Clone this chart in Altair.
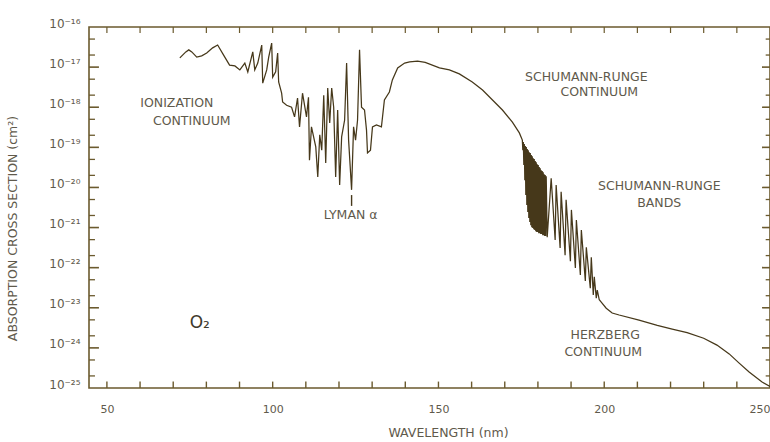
import altair as alt
import pandas as pd

# ---------------- data (wavelength in nm, log10 of cross section in cm^2)
WL_IONIZATION = [72.0, 73.8, 74.7, 75.6, 77.1, 78.6, 80.1, 81.9, 83.4, 85.2, 87.0, 88.6, 90.1, 91.6,
                 92.5, 94.0, 94.6, 95.5, 96.7, 97.0, 98.2, 98.8, 99.7, 100.0, 100.9, 101.5, 101.8,
                 102.7, 103.0, 104.2, 105.7, 106.6, 107.5, 108.1, 109.0, 110.2, 110.8, 111.1, 111.7,
                 113.0, 113.6, 114.2, 114.8, 115.4, 116.0, 116.6, 117.2, 117.8, 118.4, 119.0, 119.6,
                 120.2, 120.8, 121.7, 122.3, 122.9, 123.8, 124.4, 125.0, 125.6, 126.2, 126.8, 127.7,
                 128.3, 128.6, 129.5, 130.1, 131.3, 132.8, 133.7, 135.2, 136.1, 137.7]
LOG_IONIZATION = [-16.77, -16.62, -16.57, -16.62, -16.75, -16.72, -16.65, -16.52, -16.45, -16.70,
                  -16.95, -16.97, -17.07, -16.90, -17.12, -16.62, -17.07, -16.90, -16.45, -17.40,
                  -17.07, -16.75, -16.40, -17.25, -17.12, -16.65, -17.37, -17.65, -17.87, -17.95,
                  -18.00, -18.24, -17.77, -18.49, -17.65, -18.24, -17.75, -19.32, -18.49, -18.99,
                  -19.74, -18.69, -19.07, -17.70, -19.39, -17.52, -18.39, -17.52, -18.00, -19.74,
                  -18.07, -19.94, -18.74, -18.32, -16.90, -18.82, -20.06, -18.49, -18.82, -18.32,
                  -16.57, -18.00, -18.07, -18.57, -19.14, -19.07, -18.49, -18.44, -18.49, -17.82,
                  -17.62, -17.32, -17.02]

WL_SR_CONTINUUM = [139.8, 141.3, 143.7, 146.0, 150.3, 153.3, 156.3, 160.2, 163.3, 166.3, 169.3,
                   172.3, 174.4]
LOG_SR_CONTINUUM = [-16.90, -16.87, -16.85, -16.88, -17.02, -17.07, -17.17, -17.37, -17.57, -17.82,
                    -18.07, -18.37, -18.64]

WL_SR_BANDS = [175.3, 175.45, 175.6, 175.75, 175.9, 176.05, 176.2, 176.35, 176.5, 176.65, 176.8,
               176.95, 177.1, 177.25, 177.4, 177.55, 177.7, 177.85, 178.0, 178.15, 178.3, 178.45,
               178.6, 178.75, 178.9, 179.05, 179.2, 179.35, 179.5, 179.65, 179.8, 179.95, 180.1,
               180.25, 180.4, 180.55, 180.7, 180.85, 181.0, 181.15, 181.3, 181.45, 181.6, 181.75,
               181.9, 182.05, 182.2, 182.35, 182.5, 182.8,
               184.0, 185.2, 185.5, 186.7, 187.0, 188.2, 188.5, 189.8, 190.1, 191.3, 191.6, 192.8,
               193.1, 194.3, 194.6, 195.8, 196.1, 196.7, 197.0, 197.6, 197.9, 198.5, 199.1, 200.6]
LOG_SR_BANDS = [-18.82, -19.07, -18.87, -19.44, -18.92, -19.82, -18.97, -20.19, -18.99, -20.44,
                -19.04, -20.61, -19.07, -20.76, -19.12, -20.86, -19.14, -20.94, -19.19, -20.99,
                -19.22, -21.01, -19.27, -21.04, -19.29, -21.06, -19.34, -21.09, -19.37, -21.11,
                -19.42, -21.11, -19.44, -21.14, -19.49, -21.14, -19.52, -21.16, -19.57, -21.16,
                -19.59, -21.19, -19.62, -21.19, -19.67, -21.21, -19.69, -21.21, -19.72, -21.24,
                -19.77, -21.31, -19.94, -21.51, -20.11, -21.69, -20.31, -21.84, -20.56, -22.01,
                -20.81, -22.18, -21.06, -22.33, -21.49, -22.51, -21.74, -22.68, -22.23, -22.76,
                -22.56, -22.80, -22.86, -23.01]

WL_HERZBERG = [202.4, 204.5, 210.5, 216.0, 220.5, 225.0, 230.0, 234.0, 237.7, 240.7, 243.7, 247.6,
               250.0]
LOG_HERZBERG = [-23.13, -23.18, -23.31, -23.44, -23.53, -23.62, -23.76, -23.93, -24.15, -24.38,
                -24.60, -24.85, -24.96]

# axis ticks / labels
X_LABELS = [50, 100, 150, 200, 250]
X_TICKS = [50, 60, 70, 80, 90, 100, 110, 120, 130, 140, 150, 160, 170, 180, 190, 200, 210, 220, 230, 240]
Y_EXPONENTS = [-16, -17, -18, -19, -20, -21, -22, -23, -24, -25]
Y_LABELS = ["10⁻¹⁶", "10⁻¹⁷", "10⁻¹⁸", "10⁻¹⁹", "10⁻²⁰", "10⁻²¹", "10⁻²²", "10⁻²³", "10⁻²⁴", "10⁻²⁵"]
Y_MINOR_MULT = [2, 5]

# annotations
ANNOT_TEXT = ["IONIZATION", "CONTINUUM", "LYMAN α", "SCHUMANN-RUNGE", "CONTINUUM",
              "SCHUMANN-RUNGE", "BANDS", "HERZBERG", "CONTINUUM"]
ANNOT_WL = [71.1, 75.6, 123.5, 194.6, 198.5, 216.6, 216.6, 200.3, 199.7]
ANNOT_LOG = [-17.90, -18.34, -20.69, -17.25, -17.62, -19.97, -20.39, -23.68, -24.10]
LYMAN_WL = 123.8
LYMAN_MARK_LOG = [-20.19, -20.46]
SPECIES = "O₂"
SPECIES_WL = 78.0
SPECIES_LOG = -23.38

# ---------------- styling
INK = "#46381a"
FRAME = "#6b5a2e"
TEXT = "#5f5a4c"
FONT = "DejaVu Sans"
X_DOMAIN = [44.6, 250.0]
Y_DOMAIN = [1e-25, 1e-16]

wl = WL_IONIZATION + WL_SR_CONTINUUM + WL_SR_BANDS + WL_HERZBERG
lg = LOG_IONIZATION + LOG_SR_CONTINUUM + LOG_SR_BANDS + LOG_HERZBERG
curve = pd.DataFrame({"wavelength": wl, "sigma": [10.0 ** v for v in lg], "order": list(range(len(wl)))})

xs = alt.Scale(domain=X_DOMAIN, nice=False, zero=False)
ys = alt.Scale(type="log", domain=Y_DOMAIN, nice=False)

label_expr = " : ".join(
    f"abs(log(datum.value)/LN10 - ({e})) < 0.1 ? '{lab}'" for e, lab in zip(Y_EXPONENTS, Y_LABELS)
) + " : ''"

X_AXIS = alt.Axis(
    values=X_LABELS, ticks=False, domain=False, grid=False, labelPadding=15,
    labelFontSize=11, labelColor=TEXT, labelFont=FONT, labelFlush=True,
    title="WAVELENGTH (nm)", titleX=359, titleY=38, titleBaseline="top", titleAlign="center",
    titleFontSize=12.5, titleFontWeight="normal", titleColor=TEXT, titleFont=FONT)
Y_AXIS = alt.Axis(
    values=[10.0 ** e for e in Y_EXPONENTS], labelExpr=label_expr, ticks=False, domain=False,
    grid=False, labelPadding=9, labelOffset=-4, labelFontSize=12, labelColor=TEXT, labelFont=FONT,
    title="ABSORPTION CROSS SECTION (cm²)", titleX=-83, titleY=201, titleAngle=270,
    titleBaseline="top", titleAlign="center", titleFontSize=12.5, titleFontWeight="normal",
    titleColor=TEXT, titleFont=FONT)


def X(field):
    return alt.X(field, scale=xs, axis=X_AXIS)


def Y(field):
    return alt.Y(field, scale=ys, axis=Y_AXIS)


line = alt.Chart(curve).mark_line(color=INK, strokeWidth=1.25, clip=True).encode(
    x=X("wavelength:Q"), y=Y("sigma:Q"), order="order:Q")

xt = pd.DataFrame({"v": X_TICKS})
bottom_ticks = alt.Chart(xt).mark_rule(color=FRAME, strokeWidth=1.4).encode(
    x=X("v:Q"), y=alt.YDatum(1e-25, scale=ys, axis=Y_AXIS), y2=alt.datum(10 ** -24.84))
top_ticks = alt.Chart(xt).mark_rule(color=FRAME, strokeWidth=1.2).encode(
    x=X("v:Q"), y=alt.YDatum(1e-16, scale=ys, axis=Y_AXIS), y2=alt.datum(10 ** -16.15))

ymaj = pd.DataFrame({"v": [10.0 ** e for e in Y_EXPONENTS[1:-1]]})
ymin = pd.DataFrame({"v": [m * 10.0 ** e for e in Y_EXPONENTS[1:] for m in Y_MINOR_MULT]})
left_major = alt.Chart(ymaj).mark_rule(color=FRAME, strokeWidth=1.6).encode(
    y=Y("v:Q"), x=alt.XDatum(X_DOMAIN[0], scale=xs, axis=X_AXIS), x2=alt.datum(X_DOMAIN[0] + 3.0))
left_minor = alt.Chart(ymin).mark_rule(color=FRAME, strokeWidth=1.3).encode(
    y=Y("v:Q"), x=alt.XDatum(X_DOMAIN[0], scale=xs, axis=X_AXIS), x2=alt.datum(X_DOMAIN[0] + 1.8))
right_major = alt.Chart(ymaj).mark_rule(color=FRAME, strokeWidth=1.6).encode(
    y=Y("v:Q"), x=alt.XDatum(X_DOMAIN[1] - 2.4, scale=xs, axis=X_AXIS), x2=alt.datum(X_DOMAIN[1]))
right_minor = alt.Chart(ymin).mark_rule(color=FRAME, strokeWidth=1.3).encode(
    y=Y("v:Q"), x=alt.XDatum(X_DOMAIN[1] - 1.3, scale=xs, axis=X_AXIS), x2=alt.datum(X_DOMAIN[1]))

annots = pd.DataFrame({"t": ANNOT_TEXT, "x": ANNOT_WL, "y": [10.0 ** v for v in ANNOT_LOG]})
labels = alt.Chart(annots).mark_text(font=FONT, fontSize=12.5, color=TEXT, align="center",
                                     baseline="middle").encode(
    x=X("x:Q"), y=Y("y:Q"), text="t:N")

lyman = alt.Chart(pd.DataFrame({"x": [LYMAN_WL], "y": [10.0 ** LYMAN_MARK_LOG[0]],
                                "y2": [10.0 ** LYMAN_MARK_LOG[1]]})).mark_rule(
    color=INK, strokeWidth=1.4).encode(x=X("x:Q"), y=Y("y:Q"), y2="y2:Q")

species = alt.Chart(pd.DataFrame({"t": [SPECIES], "x": [SPECIES_WL], "y": [10.0 ** SPECIES_LOG]})).mark_text(
    font=FONT, fontSize=17, color="#3f3a2c", align="center", baseline="middle").encode(
    x=X("x:Q"), y=Y("y:Q"), text="t:N")

chart = alt.layer(
    line, bottom_ticks, top_ticks, left_major, left_minor, right_major, right_minor,
    labels, lyman, species,
).properties(
    width=681, height=361,
    autosize=alt.AutoSizeParams(type="none"),
    padding={"left": 89, "top": 27, "right": 0, "bottom": 54},
    background="white",
).configure_view(stroke=FRAME, strokeWidth=1.6)

chart.save("out.html", embed_options={"renderer": "svg", "actions": False})
